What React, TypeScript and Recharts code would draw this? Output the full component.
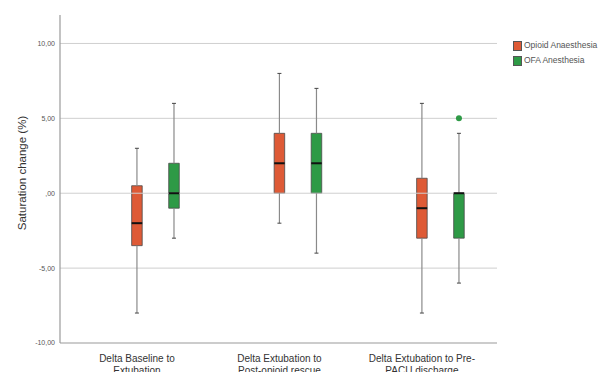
import React from 'react';
import {
  ComposedChart,
  XAxis,
  YAxis,
  ReferenceArea,
  ReferenceLine,
  Scatter,
  Label,
} from 'recharts';

// ---- Data ----
const categoryLines: string[][] = [
  ['Delta Baseline to', 'Extubation'],
  ['Delta Extubation to', 'Post-opioid rescue'],
  ['Delta Extubation to Pre-', 'PACU discharge'],
];
const seriesNames = ['Opioid Anaesthesia', 'OFA Anesthesia'];

// five-number summaries per category
const opioidMin = [-8, -2, -8];
const opioidQ1 = [-3.5, 0, -3];
const opioidMedian = [-2, 2, -1];
const opioidQ3 = [0.5, 4, 1];
const opioidMax = [3, 8, 6];

const ofaMin = [-3, -4, -6];
const ofaQ1 = [-1, 0, -3];
const ofaMedian = [0, 2, 0];
const ofaQ3 = [2, 4, 0];
const ofaMax = [6, 7, 4];

// outliers: category index + value
const ofaOutlierCats = [2];
const ofaOutlierValues = [5];

const yTicks = [-10, -5, 0, 5, 10];
const gridValues = [-5, 0, 5, 10];

// ---- Layout constants ----
const X_MAX = 3.067;
const OFFSETS = [0.54, 0.8];
const BOX_HALF = 0.037;
const CAP_HALF = 0.014;
const COLORS = ['#DE5A36', '#2E9A46'];
const FONT = '"Liberation Sans", Arial, sans-serif';

const fmtY = (v: number) => {
  if (v === 0) return ',00';
  return `${v},00`;
};

function boxElements(
  key: string,
  cx: number,
  min: number,
  q1: number,
  med: number,
  q3: number,
  max: number,
  color: string
) {
  const els: React.ReactNode[] = [];
  els.push(
    <ReferenceLine
      key={key + 'wl'}
      segment={[{ x: cx, y: min }, { x: cx, y: q1 }]}
      stroke="#8a8a8a"
      strokeWidth={1.2}
    />
  );
  els.push(
    <ReferenceLine
      key={key + 'wu'}
      segment={[{ x: cx, y: q3 }, { x: cx, y: max }]}
      stroke="#8a8a8a"
      strokeWidth={1.2}
    />
  );
  els.push(
    <ReferenceLine
      key={key + 'cl'}
      segment={[{ x: cx - CAP_HALF, y: min }, { x: cx + CAP_HALF, y: min }]}
      stroke="#444"
      strokeWidth={1}
    />
  );
  els.push(
    <ReferenceLine
      key={key + 'cu'}
      segment={[{ x: cx - CAP_HALF, y: max }, { x: cx + CAP_HALF, y: max }]}
      stroke="#444"
      strokeWidth={1}
    />
  );
  els.push(
    <ReferenceArea
      key={key + 'box'}
      x1={cx - BOX_HALF}
      x2={cx + BOX_HALF}
      y1={q1}
      y2={q3}
      fill={color}
      fillOpacity={1}
      stroke="#4a4a4a"
      strokeWidth={0.8}
    />
  );
  els.push(
    <ReferenceLine
      key={key + 'med'}
      segment={[{ x: cx - BOX_HALF, y: med }, { x: cx + BOX_HALF, y: med }]}
      stroke="#111"
      strokeWidth={2}
    />
  );
  return els;
}

const XTick = (props: any) => {
  const { x, y, index } = props;
  const lines = categoryLines[index] || [];
  return (
    <g>
      {lines.map((l, i) => (
        <text
          key={i}
          x={x}
          y={y + 19 + i * 12}
          textAnchor="middle"
          fontSize={10}
          fontFamily={FONT}
          fill="#333"
        >
          {l}
        </text>
      ))}
    </g>
  );
};

const YTitle = (props: any) => {
  const vb = props.viewBox || { y: 15, height: 328 };
  const cy = vb.y + vb.height / 2 - 6;
  return (
    <text
      x={22}
      y={cy}
      transform={`rotate(-90, 22, ${cy})`}
      textAnchor="middle"
      dominantBaseline="central"
      fontSize={11.5}
      fontFamily={FONT}
      fill="#333"
    >
      Saturation change (%)
    </text>
  );
};

export default function App() {
  const outlierData = ofaOutlierCats.map((c, i) => ({
    x: c + OFFSETS[1],
    y: ofaOutlierValues[i],
  }));

  const boxes: React.ReactNode[] = [];
  categoryLines.forEach((_, i) => {
    boxes.push(
      ...boxElements(
        `op${i}`,
        i + OFFSETS[0],
        opioidMin[i],
        opioidQ1[i],
        opioidMedian[i],
        opioidQ3[i],
        opioidMax[i],
        COLORS[0]
      )
    );
    boxes.push(
      ...boxElements(
        `ofa${i}`,
        i + OFFSETS[1],
        ofaMin[i],
        ofaQ1[i],
        ofaMedian[i],
        ofaQ3[i],
        ofaMax[i],
        COLORS[1]
      )
    );
  });

  return (
    <div
      style={{
        position: 'absolute',
        left: 0,
        top: 0,
        width: 603,
        height: 372,
        background: '#fff',
        overflow: 'hidden',
      }}
    >
      <ComposedChart
        width={603}
        height={372}
        margin={{ top: 15, right: 106, bottom: 0, left: 0 }}
      >
        {gridValues.map((v) => (
          <ReferenceLine key={'g' + v} y={v} stroke="#cfcfcf" strokeWidth={1} />
        ))}
        <XAxis
          type="number"
          dataKey="x"
          domain={[0, X_MAX]}
          allowDataOverflow
          ticks={categoryLines.map((_, i) => i + OFFSETS[0])}
          interval={0}
          tick={<XTick />}
          tickLine={false}
          tickSize={0}
          tickMargin={0}
          height={29}
          axisLine={{ stroke: '#9a9a9a', strokeWidth: 1.2 }}
        />
        <YAxis
          type="number"
          dataKey="y"
          domain={[-10, 11.9]}
          allowDataOverflow
          ticks={yTicks}
          interval={0}
          tickFormatter={fmtY}
          tick={{ fontSize: 7, fill: '#555', fontFamily: FONT }}
          tickLine={false}
          tickSize={0}
          tickMargin={5}
          width={60}
          axisLine={{ stroke: '#9a9a9a', strokeWidth: 1.2 }}
        >
          <Label content={<YTitle />} />
        </YAxis>
        {boxes}
        <Scatter
          data={outlierData}
          dataKey="y"
          fill={COLORS[1]}
          isAnimationActive={false}
          shape={(p: any) => (
            <circle cx={p.cx} cy={p.cy} r={3} fill={COLORS[1]} />
          )}
        />
      </ComposedChart>
      <div
        style={{
          position: 'absolute',
          left: 513,
          top: 38,
          fontFamily: FONT,
          fontSize: 8.5,
          color: '#555',
          lineHeight: '15px',
        }}
      >
        {seriesNames.map((n, i) => (
          <div key={n} style={{ display: 'flex', alignItems: 'center', whiteSpace: 'nowrap' }}>
            <span
              style={{
                display: 'inline-block',
                width: 7,
                height: 8,
                background: COLORS[i],
                border: '0.5px solid #555',
                marginRight: 2,
              }}
            />
            {n}
          </div>
        ))}
      </div>
    </div>
  );
}
